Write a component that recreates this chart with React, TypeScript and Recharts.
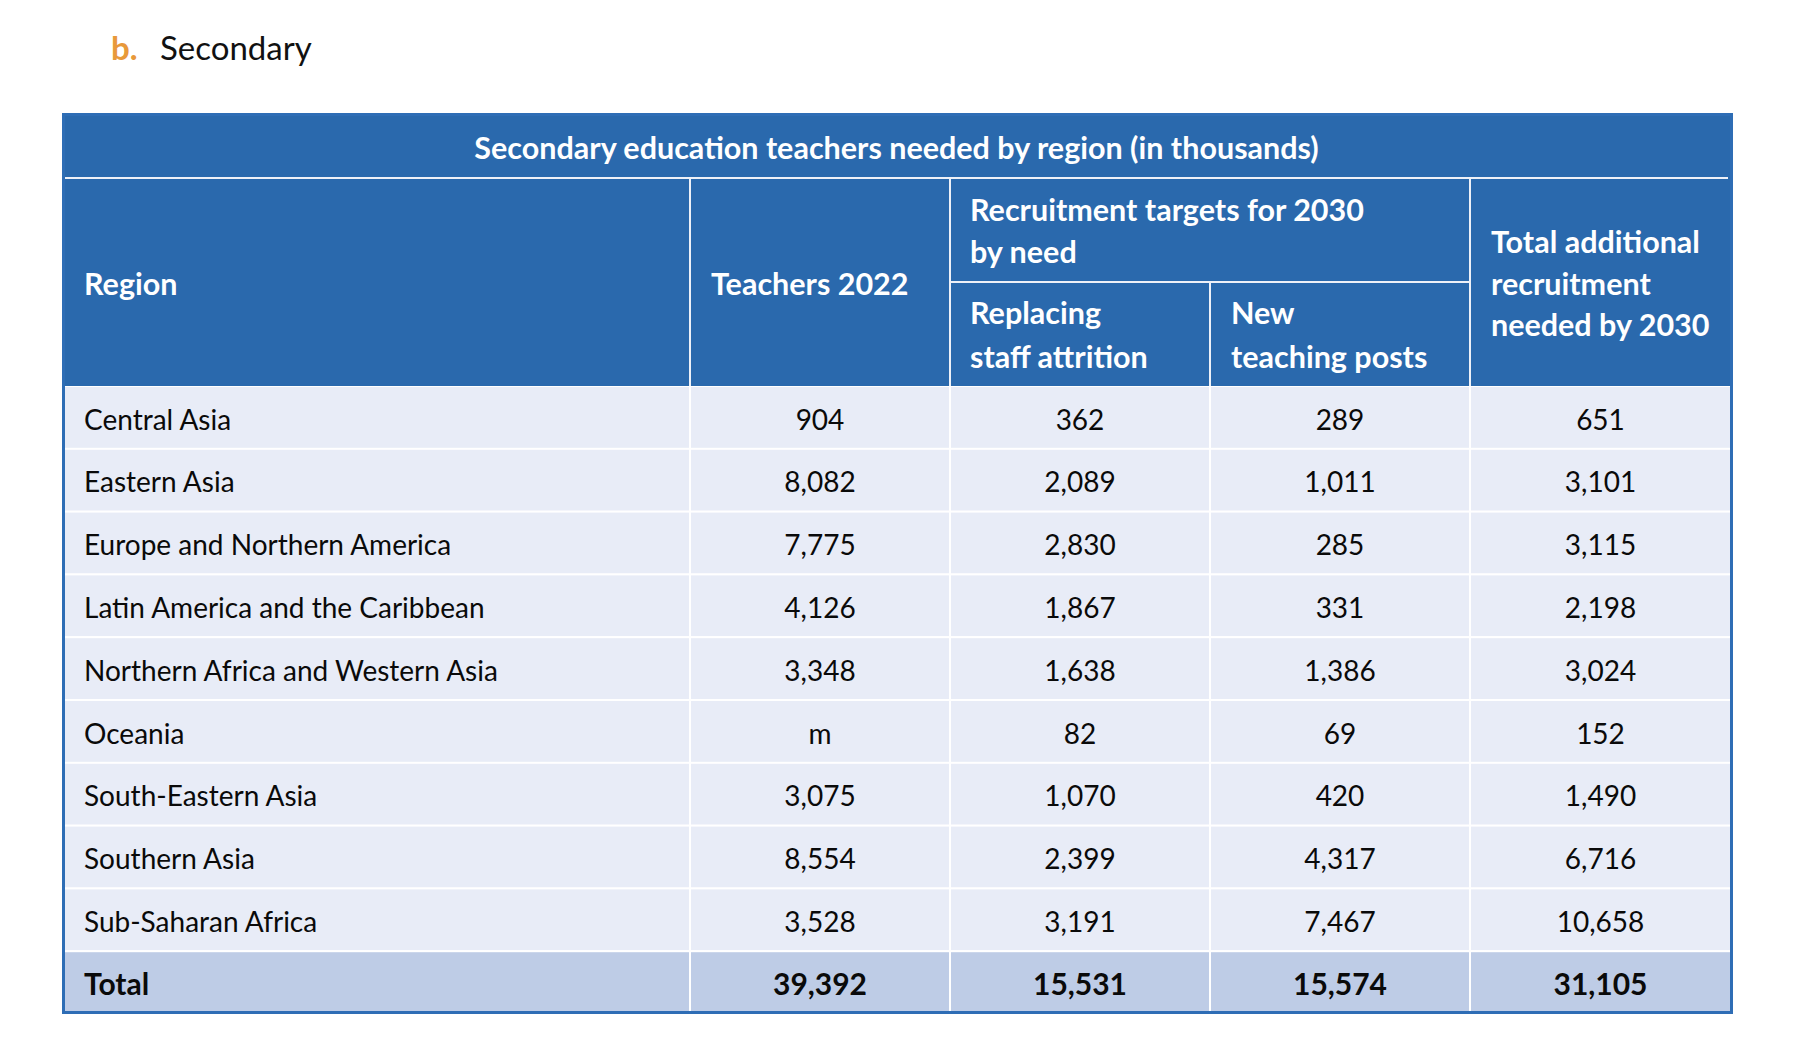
import { BarChart, Bar, XAxis, YAxis } from 'recharts';

const REGIONS = [
  'Central Asia',
  'Eastern Asia',
  'Europe and Northern America',
  'Latin America and the Caribbean',
  'Northern Africa and Western Asia',
  'Oceania',
  'South-Eastern Asia',
  'Southern Asia',
  'Sub-Saharan Africa',
];
// null = missing ("m")
const TEACHERS_2022: (number | null)[] = [904, 8082, 7775, 4126, 3348, null, 3075, 8554, 3528];
const REPLACING_ATTRITION = [362, 2089, 2830, 1867, 1638, 82, 1070, 2399, 3191];
const NEW_POSTS = [289, 1011, 285, 331, 1386, 69, 420, 4317, 7467];
const TOTAL_ADDITIONAL = [651, 3101, 3115, 2198, 3024, 152, 1490, 6716, 10658];
const TOTAL_LABEL = 'Total';
const TOTALS = [39392, 15531, 15574, 31105];

const TABLE_TITLE = 'Secondary education teachers needed by region (in thousands)';
const HEAD_REGION = 'Region';
const HEAD_TEACHERS = 'Teachers 2022';
const HEAD_TARGETS = ['Recruitment targets for 2030', 'by need'];
const HEAD_ATTRITION = ['Replacing', 'staff attrition'];
const HEAD_NEW = ['New', 'teaching posts'];
const HEAD_TOTAL = ['Total additional', 'recruitment', 'needed by 2030'];

const HEADER_BLUE = '#2A69AD';
const BORDER_BLUE = '#2E6DB5';
const ROW_BG = '#E8ECF7';
const TOTAL_BG = '#BECCE6';
const FONT = 'Lato, "Open Sans", sans-serif';
const HEAD_SIZE = 30.5;

// table frame (px)
const LEFT = 62;
const RIGHT = 1731;
const TOP = 113;
const HEAD_BOTTOM = 386;
const BOTTOM = 1014;

const COLUMNS = [
  { key: 'region', width: 628, align: 'left' },
  { key: 'teachers', width: 260, align: 'center' },
  { key: 'attrition', width: 260, align: 'center' },
  { key: 'newPosts', width: 260, align: 'center' },
  { key: 'total', width: 261, align: 'center' },
];
const TABLE_UNITS = COLUMNS.reduce((s, c) => s + c.width, 0);

const rows = [
  ...REGIONS.map((region, i) => ({
    region,
    teachers: TEACHERS_2022[i],
    attrition: REPLACING_ATTRITION[i],
    newPosts: NEW_POSTS[i],
    total: TOTAL_ADDITIONAL[i],
    isTotal: false,
  })),
  {
    region: TOTAL_LABEL,
    teachers: TOTALS[0],
    attrition: TOTALS[1],
    newPosts: TOTALS[2],
    total: TOTALS[3],
    isTotal: true,
  },
];

function makeCell(col: { key: string; align: string }) {
  return (props: any) => {
    const { x, y, width, height, payload } = props;
    const bold = payload.isTotal;
    const raw = payload[col.key];
    const label = col.key === 'region' ? raw : raw == null ? 'm' : Number(raw).toLocaleString('en-US');
    const left = col.align === 'left';
    return (
      <g>
        <rect x={x} y={y} width={width} height={height} fill={bold ? TOTAL_BG : ROW_BG} stroke="#fff" strokeWidth={2} />
        <text
          x={left ? x + 22 : x + width / 2}
          y={y + height / 2 + 12}
          textAnchor={left ? 'start' : 'middle'}
          fontFamily={FONT}
          fontSize={bold ? 30 : 28}
          fontWeight={bold ? 700 : 400}
          fill="#0a0a0a"
        >
          {label}
        </text>
      </g>
    );
  };
}

function HeadText({ x, y, lines, gap = 42 }: { x: number; y: number; lines: string[]; gap?: number }) {
  return (
    <text x={x} y={y} fontFamily={FONT} fontSize={HEAD_SIZE} fontWeight={700} fill="#fff">
      {lines.map((l, i) => (
        <tspan key={i} x={x} dy={i === 0 ? 0 : gap}>
          {l}
        </tspan>
      ))}
    </text>
  );
}

function Header() {
  const c1 = 690;
  const c2 = 950;
  const c3 = 1210;
  const c4 = 1470;
  return (
    <svg width={1794} height={1040} style={{ position: 'absolute', left: 0, top: 0, pointerEvents: 'none' }}>
      <text x={111} y={60} fontFamily={FONT} fontSize={33} fontWeight={700} fill="#E8993A">b.</text>
      <text x={160} y={60} fontFamily={FONT} fontSize={33} fill="#111">Secondary</text>

      <rect x={LEFT} y={TOP} width={RIGHT - LEFT + 1} height={HEAD_BOTTOM - TOP} fill={HEADER_BLUE} />
      <text x={(LEFT + RIGHT) / 2} y={158.5} textAnchor="middle" fontFamily={FONT} fontSize={HEAD_SIZE} fontWeight={700} fill="#fff">
        {TABLE_TITLE}
      </text>
      <g stroke="#EEF1F8" strokeWidth={2}>
        <line x1={65} x2={1728} y1={178} y2={178} />
        <line x1={c1} x2={c1} y1={178} y2={HEAD_BOTTOM} />
        <line x1={c2} x2={c2} y1={178} y2={HEAD_BOTTOM} />
        <line x1={c4} x2={c4} y1={178} y2={HEAD_BOTTOM} />
        <line x1={c2} x2={c4} y1={282} y2={282} />
        <line x1={c3} x2={c3} y1={282} y2={HEAD_BOTTOM} />
      </g>
      <HeadText x={84} y={295} lines={[HEAD_REGION]} />
      <HeadText x={711} y={295} lines={[HEAD_TEACHERS]} />
      <HeadText x={970} y={221} lines={HEAD_TARGETS} />
      <HeadText x={970} y={324} lines={HEAD_ATTRITION} gap={44} />
      <HeadText x={1231} y={324} lines={HEAD_NEW} gap={44} />
      <HeadText x={1491} y={253} lines={HEAD_TOTAL} gap={41.5} />

      <rect x={63.5} y={TOP + 1.5} width={RIGHT - LEFT - 1} height={BOTTOM - TOP - 3} fill="none" stroke={BORDER_BLUE} strokeWidth={3} />
    </svg>
  );
}

export default function App() {
  return (
    <div style={{ position: 'absolute', left: 0, top: 0, width: 1794, height: 1040, background: '#fff' }}>
      <BarChart
        width={1794}
        height={1040}
        data={rows}
        layout="vertical"
        barCategoryGap={0}
        barGap={0}
        margin={{ top: HEAD_BOTTOM, bottom: 1040 - BOTTOM, left: LEFT, right: 1794 - RIGHT }}
      >
        <XAxis type="number" hide domain={[0, TABLE_UNITS]} />
        <YAxis type="category" dataKey="region" hide />
        {COLUMNS.map((col) => (
          <Bar
            key={col.key}
            dataKey={() => col.width}
            stackId="row"
            isAnimationActive={false}
            shape={makeCell(col)}
          />
        ))}
      </BarChart>
      <Header />
    </div>
  );
}
